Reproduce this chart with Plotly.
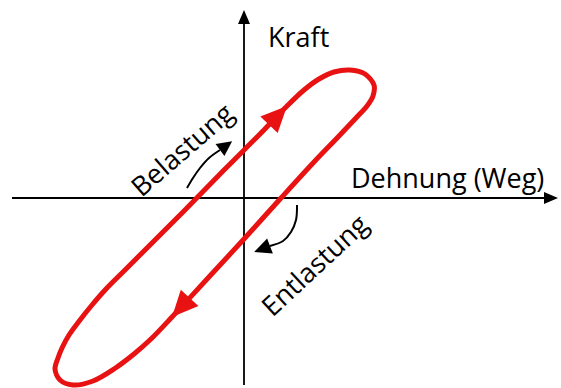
import math
import plotly.graph_objects as go

# Hysteresis loop: Dehnung (Weg) vs. Kraft, arbitrary units, origin at the axis cross
dehnung = [-60, -20, 20, 43, 60, 75, 90, 106, 121, 130, 129, 123, 112, 95, 70, 37, 0, -36,
           -72, -92, -110, -130, -151, -171, -184, -189, -186, -182, -175, -164, -152, -138,
           -120, -100, -60]
kraft = [-13, 28, 68, 92, 108, 119, 126, 128, 124, 113, 102, 92, 80, 62, 36, 0, -41, -80,
         -119, -140, -156, -171, -183, -187, -182, -171, -160, -150, -137, -122, -107, -91,
         -73, -53, -13]

# indices of loop points where the direction arrows sit (tip)
arrow_idx = [3, 18]

# curved helper arrows
belast_x = [-57, -51, -44, -35, -24]
belast_y = [10, 20, 30, 40, 48]
entlast_x = [53, 52, 47, 39, 26]
entlast_y = [-7, -22, -34, -43, -48]

# axis extents
x_axis = [-232, 314]
y_axis = [-187, 188]

labels = {"x": "Dehnung (Weg)", "y": "Kraft", "load": "Belastung", "unload": "Entlastung"}

RED = "rgb(232,18,18)"
FONT = dict(family="Open Sans, Lato, sans-serif", size=27, color="#000")


def head_path(tx, ty, fx, fy, length, width):
    dx, dy = tx - fx, ty - fy
    n = math.hypot(dx, dy)
    ux, uy = dx / n, dy / n
    bx, by = tx - ux * length, ty - uy * length
    px, py = -uy, ux
    return (f"M{tx},{ty} L{bx + px * width / 2},{by + py * width / 2} "
            f"L{bx - px * width / 2},{by - py * width / 2} Z")


def tip_from(xs, ys, length):
    dx, dy = xs[-1] - xs[-2], ys[-1] - ys[-2]
    n = math.hypot(dx, dy)
    return xs[-1] + dx / n * length, ys[-1] + dy / n * length


fig = go.Figure()
shapes = []

# axes
AX_HEAD = 14
fig.add_trace(go.Scatter(x=[x_axis[0], x_axis[1] - AX_HEAD + 1], y=[0, 0], mode="lines",
                         line=dict(color="black", width=1.8), hoverinfo="skip"))
fig.add_trace(go.Scatter(x=[0, 0], y=[y_axis[0], y_axis[1] - AX_HEAD + 1], mode="lines",
                         line=dict(color="black", width=1.8), hoverinfo="skip"))
shapes.append(dict(type="path", xref="x", yref="y", fillcolor="black", line=dict(width=0),
                   path=head_path(x_axis[1], 0, x_axis[0], 0, AX_HEAD, 12)))
shapes.append(dict(type="path", xref="x", yref="y", fillcolor="black", line=dict(width=0),
                   path=head_path(0, y_axis[1], 0, y_axis[0], AX_HEAD, 12)))

# loop
fig.add_trace(go.Scatter(x=dehnung, y=kraft, mode="lines",
                         line=dict(color=RED, width=5, shape="spline", smoothing=0.9),
                         hoverinfo="skip"))
for i in arrow_idx:
    shapes.append(dict(type="path", xref="x", yref="y", fillcolor=RED, line=dict(width=0),
                       path=head_path(dehnung[i], kraft[i], dehnung[i - 1], kraft[i - 1], 26, 24)))

# curved black arrows
for xs, ys, hl, hw in [(belast_x, belast_y, 15, 15), (entlast_x, entlast_y, 17, 16)]:
    fig.add_trace(go.Scatter(x=xs, y=ys, mode="lines",
                             line=dict(color="black", width=2, shape="spline"),
                             hoverinfo="skip"))
    tx, ty = tip_from(xs, ys, hl)
    shapes.append(dict(type="path", xref="x", yref="y", fillcolor="black", line=dict(width=0),
                       path=head_path(tx, ty, xs[-1], ys[-1], hl, hw)))

annotations = [
    dict(x=54, y=162, text=labels["y"], showarrow=False, font=FONT,
         xanchor="center", yanchor="middle"),
    dict(x=203, y=21, text=labels["x"], showarrow=False, font=FONT,
         xanchor="center", yanchor="middle"),
    dict(x=-63, y=49, text=labels["load"], showarrow=False, font=FONT, textangle=-41,
         xanchor="center", yanchor="middle"),
    dict(x=70, y=-66, text=labels["unload"], showarrow=False, font=FONT, textangle=-43,
         xanchor="center", yanchor="middle"),
]

fig.update_layout(
    width=561, height=388,
    margin=dict(l=0, r=0, t=0, b=0),
    paper_bgcolor="white", plot_bgcolor="white",
    showlegend=False,
    xaxis=dict(range=[-244, 317], visible=False, fixedrange=True),
    yaxis=dict(range=[-190, 198], visible=False, fixedrange=True),
    shapes=shapes,
    annotations=annotations,
)

fig.write_html("out.html", config={"displayModeBar": False},
               post_script="document.body.style.margin='0px';")
